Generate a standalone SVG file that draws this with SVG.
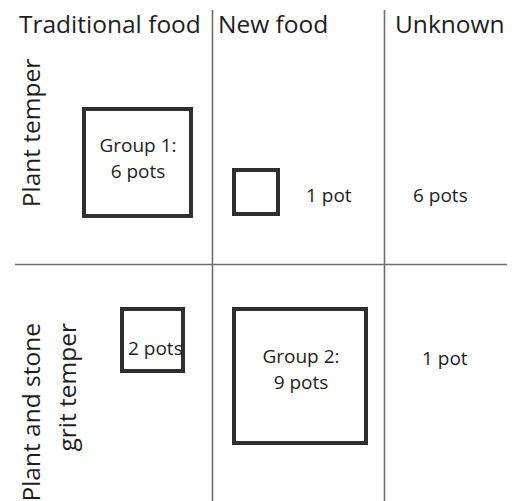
<svg xmlns="http://www.w3.org/2000/svg" width="514" height="501" viewBox="0 0 514 501">
<style>
text{font-family:"Open Sans","Noto Sans","Liberation Sans",sans-serif;fill:#1e1e1e}
.hd{font-size:24.5px}
.lb{font-size:19px}
.box{fill:none;stroke:#2f2f2f;stroke-width:4}
.grid{stroke:#6e6e6e;stroke-width:1.6}
</style>
<rect width="514" height="501" fill="#ffffff"/>
<g id="connectors">
<line class="grid" x1="212.5" y1="10" x2="212.5" y2="501"/>
<line class="grid" x1="384.5" y1="10" x2="384.5" y2="501"/>
<line class="grid" x1="15" y1="264.5" x2="507" y2="264.5"/>
</g>
<g id="headers">
<text class="hd" x="19" y="33">Traditional food</text>
<text class="hd" x="218" y="33">New food</text>
<text class="hd" x="395" y="33">Unknown</text>
</g>
<g id="rowlabels">
<text class="hd" transform="translate(40,133) rotate(-90)" text-anchor="middle">Plant temper</text>
<text class="hd" transform="translate(40,323) rotate(-90)" text-anchor="end">Plant and stone</text>
<text class="hd" transform="translate(76,323) rotate(-90)" text-anchor="end">grit temper</text>
</g>
<g id="group1">
<rect class="box" x="84" y="109" width="107" height="107"/>
<text class="lb" x="138" y="152" text-anchor="middle">Group 1:</text>
<text class="lb" x="138" y="178" text-anchor="middle">6 pots</text>
</g>
<g id="newplant">
<rect class="box" x="234" y="170" width="44" height="44"/>
<text class="lb" x="306" y="202">1 pot</text>
</g>
<g id="unknownplant">
<text class="lb" x="413" y="202">6 pots</text>
</g>
<g id="tradstone">
<rect class="box" x="122" y="309" width="61" height="62"/>
<text class="lb" x="128" y="355">2 pots</text>
</g>
<g id="group2">
<rect class="box" x="234" y="309" width="132" height="134"/>
<text class="lb" x="301" y="363" text-anchor="middle">Group 2:</text>
<text class="lb" x="301" y="389" text-anchor="middle">9 pots</text>
</g>
<g id="unknownstone">
<text class="lb" x="422" y="365">1 pot</text>
</g>
</svg>
